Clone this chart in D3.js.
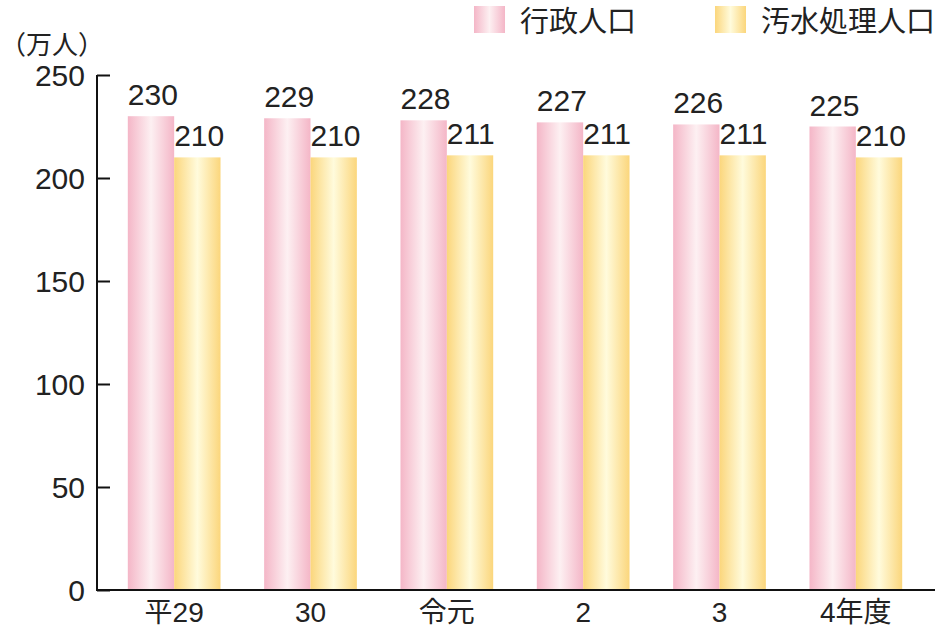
<!DOCTYPE html>
<html><head><meta charset="utf-8">
<script src="https://cdn.jsdelivr.net/npm/d3@7"></script>
<style>body{margin:0;background:#fff}svg{display:block}text{font-family:"Liberation Sans","Noto Sans CJK JP",sans-serif;fill:#222}</style>
</head><body><svg id="c" width="950" height="627"></svg>
<script>
const categories = ["平29","30","令元","2","3","4年度"];
const gyousei = [230,229,228,227,226,225];
const osui = [210,210,211,211,211,210];
const yTicks = [0,50,100,150,200,250];
const seriesNames = ["行政人口","汚水処理人口"];

const svg = d3.select("#c");
const defs = svg.append("defs");
function grad(id, edge, mid){
  const g = defs.append("linearGradient").attr("id",id).attr("x1","0%").attr("x2","100%");
  g.append("stop").attr("offset","0%").attr("stop-color",edge);
  g.append("stop").attr("offset","50%").attr("stop-color",mid);
  g.append("stop").attr("offset","100%").attr("stop-color",edge);
}
grad("gp","#f4b6c7","#fdf0f2");
grad("gy","#fbd67c","#fffbdc");
const fills=["url(#gp)","url(#gy)"];

const y = d3.scaleLinear().domain([0,250]).range([590,75]);
const x = d3.scaleBand().domain(categories).range([106,924]).paddingInner(0.32).paddingOuter(0.16);
const xs = d3.scaleBand().domain([0,1]).range([0,x.bandwidth()]);

// y axis
const ya = svg.append("g").attr("transform","translate(97,0)")
  .call(d3.axisRight(y).tickValues(yTicks).tickSize(13).tickFormat(""));
ya.select(".domain").remove();
ya.selectAll("line").attr("stroke","#111").attr("stroke-width",2);
svg.append("line").attr("x1",97).attr("x2",97).attr("y1",y(250)).attr("y2",y(0)).attr("stroke","#111").attr("stroke-width",2);
svg.selectAll(".yl").data(yTicks).enter().append("text")
  .attr("x",85).attr("y",d=>y(d)+11).attr("text-anchor","end")
  .attr("font-size",30).text(d=>d);

const data=[gyousei,osui];
categories.forEach((c,i)=>{
  data.forEach((arr,s)=>{
    const bx = x(c)+xs(s), bw = xs.bandwidth();
    svg.append("rect").attr("x",bx).attr("width",bw).attr("y",y(arr[i])).attr("height",y(0)-y(arr[i])).attr("fill",fills[s]);
    svg.append("text").attr("x",bx).attr("y",y(arr[i])-11).attr("font-size",30).text(arr[i]);
  });
});

// x axis
svg.append("line").attr("x1",96).attr("x2",935).attr("y1",590).attr("y2",590).attr("stroke","#111").attr("stroke-width",2);
svg.selectAll(".xl").data(categories).enter().append("text")
  .attr("x",d=>x(d)+x.bandwidth()/2).attr("y",622).attr("text-anchor","middle")
  .attr("font-size",28).text(d=>d);

svg.append("text").attr("x",0).attr("y",54).attr("font-size",26)
  .style("font-family","'Noto Sans CJK JP',sans-serif").text("（万人）");

// legend
const lx=[474,715];
seriesNames.forEach((n,s)=>{
  svg.append("rect").attr("x",lx[s]).attr("y",6).attr("width",31).attr("height",27).attr("fill",fills[s]);
  svg.append("text").attr("x",lx[s]+46).attr("y",32).attr("font-size",29).text(n);
});
</script></body></html>
